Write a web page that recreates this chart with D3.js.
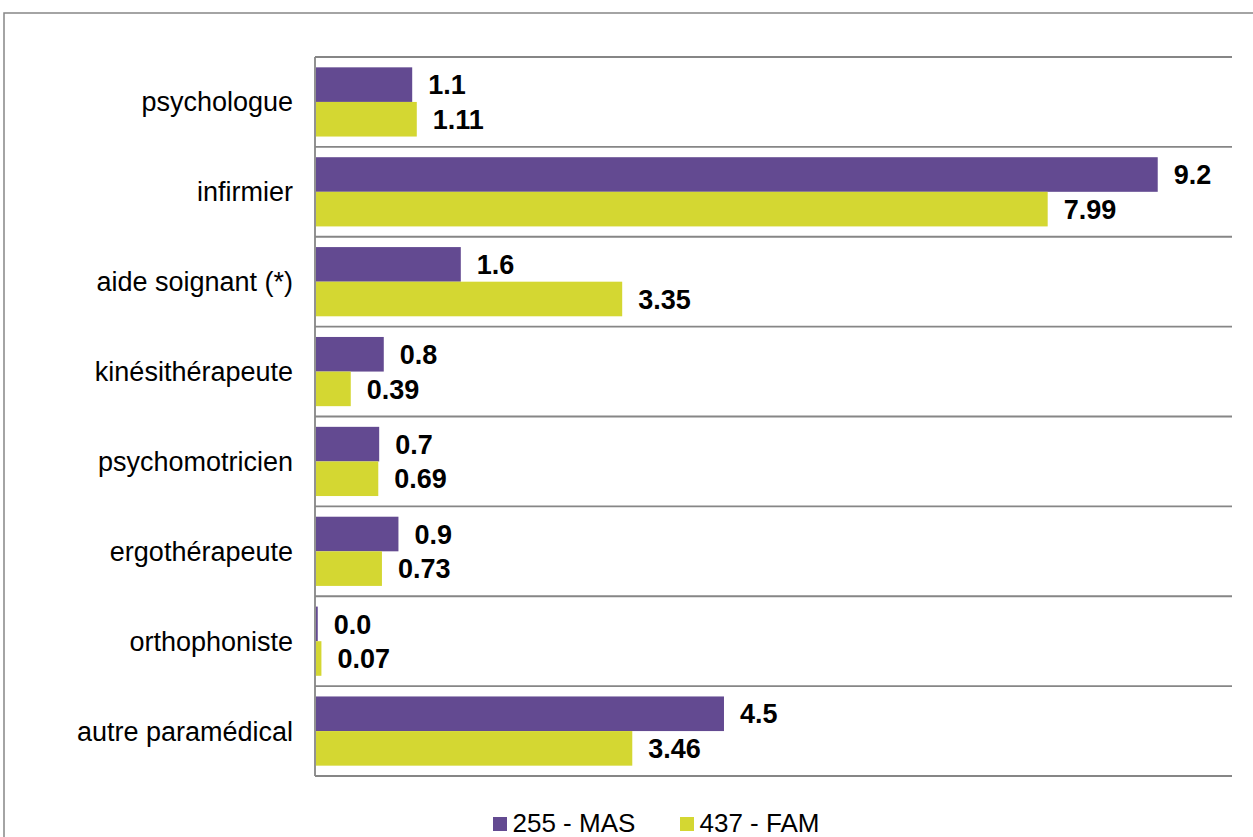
<!DOCTYPE html>
<html>
<head>
<meta charset="utf-8">
<script src="https://cdn.jsdelivr.net/npm/d3@7"></script>
<style>
  body { margin: 0; background: #fff; }
  svg { display: block; font-family: "Liberation Sans", Arial, sans-serif; }
</style>
</head>
<body>
<svg id="chart" width="1253" height="837"></svg>
<script>
//* Data
const categories = ["psychologue", "infirmier", "aide soignant (*)", "kinésithérapeute",
  "psychomotricien", "ergothérapeute", "orthophoniste", "autre paramédical"];
const seriesNames = ["255 - MAS", "437 - FAM"];
const masValues = [1.06, 9.19, 1.59, 0.75, 0.70, 0.91, 0.03, 4.46];
const famValues = [1.11, 7.99, 3.35, 0.39, 0.69, 0.73, 0.07, 3.46];
const colors = ["#634a91", "#d4d732"];
const labelFormats = [d3.format(".1f"), d3.format(".2f")];

//* Chart area
const plotLeft = 315, plotRight = 1232, plotTop = 57, plotBottom = 776;

const rows = categories.map((c, i) => ({ category: c, values: [masValues[i], famValues[i]] }));

const svg = d3.select("#chart");

// outer frame (cut off at right and bottom like the source)
svg.append("rect")
  .attr("x", 4)
  .attr("y", 13)
  .attr("width", 1300)
  .attr("height", 900)
  .attr("fill", "none")
  .attr("stroke", "#868686")
  .attr("stroke-width", 1.5);

const x = d3.scaleLinear()
  .domain([0, 10])
  .range([plotLeft, plotRight]);

const y = d3.scaleBand()
  .domain(categories)
  .range([plotTop, plotBottom])
  .paddingInner(0.23)
  .paddingOuter(0.115);

const ySub = d3.scaleBand()
  .domain([0, 1])
  .range([0, y.bandwidth()]);

// horizontal grid lines on category boundaries
const boundaries = d3.range(categories.length + 1).map(i => plotTop + i * y.step());
svg.append("g")
  .selectAll("line")
  .data(boundaries)
  .join("line")
  .attr("x1", plotLeft)
  .attr("x2", plotRight)
  .attr("y1", d => d)
  .attr("y2", d => d)
  .attr("stroke", "#868686")
  .attr("stroke-width", 1.8);

// vertical axis line
svg.append("line")
  .attr("x1", plotLeft)
  .attr("x2", plotLeft)
  .attr("y1", plotTop)
  .attr("y2", plotBottom)
  .attr("stroke", "#868686")
  .attr("stroke-width", 1.8);

// category labels
svg.append("g")
  .selectAll("text")
  .data(categories)
  .join("text")
  .attr("x", 293)
  .attr("y", d => y(d) + y.bandwidth() / 2)
  .attr("dy", "0.35em")
  .attr("text-anchor", "end")
  .attr("font-size", "27px")
  .attr("fill", "#000")
  .text(d => d);

// bars
const groups = svg.append("g")
  .selectAll("g")
  .data(rows)
  .join("g")
  .attr("transform", d => `translate(0, ${y(d.category)})`);

groups.selectAll("rect")
  .data(d => d.values.map((v, s) => ({ v, s })))
  .join("rect")
  .attr("x", x(0) + 1)
  .attr("y", d => ySub(d.s))
  .attr("width", d => Math.max(0, x(d.v) - x(0) - 1))
  .attr("height", ySub.bandwidth())
  .attr("fill", d => colors[d.s]);

groups.selectAll("text")
  .data(d => d.values.map((v, s) => ({ v, s })))
  .join("text")
  .attr("x", d => x(d.v) + 16)
  .attr("y", d => ySub(d.s) + ySub.bandwidth() / 2)
  .attr("dy", "0.36em")
  .attr("font-size", "27px")
  .attr("font-weight", "bold")
  .attr("fill", "#000")
  .text(d => labelFormats[d.s](d.v));

// legend
const legendX = [493, 680];
const legend = svg.append("g")
  .selectAll("g")
  .data(seriesNames)
  .join("g")
  .attr("transform", (d, i) => `translate(${legendX[i]}, 817)`);

legend.append("rect")
  .attr("width", 14)
  .attr("height", 14)
  .attr("fill", (d, i) => colors[i]);

legend.append("text")
  .attr("x", 19.5)
  .attr("y", 14.5)
  .attr("font-size", "26px")
  .attr("fill", "#000")
  .text(d => d);
</script>
</body>
</html>
